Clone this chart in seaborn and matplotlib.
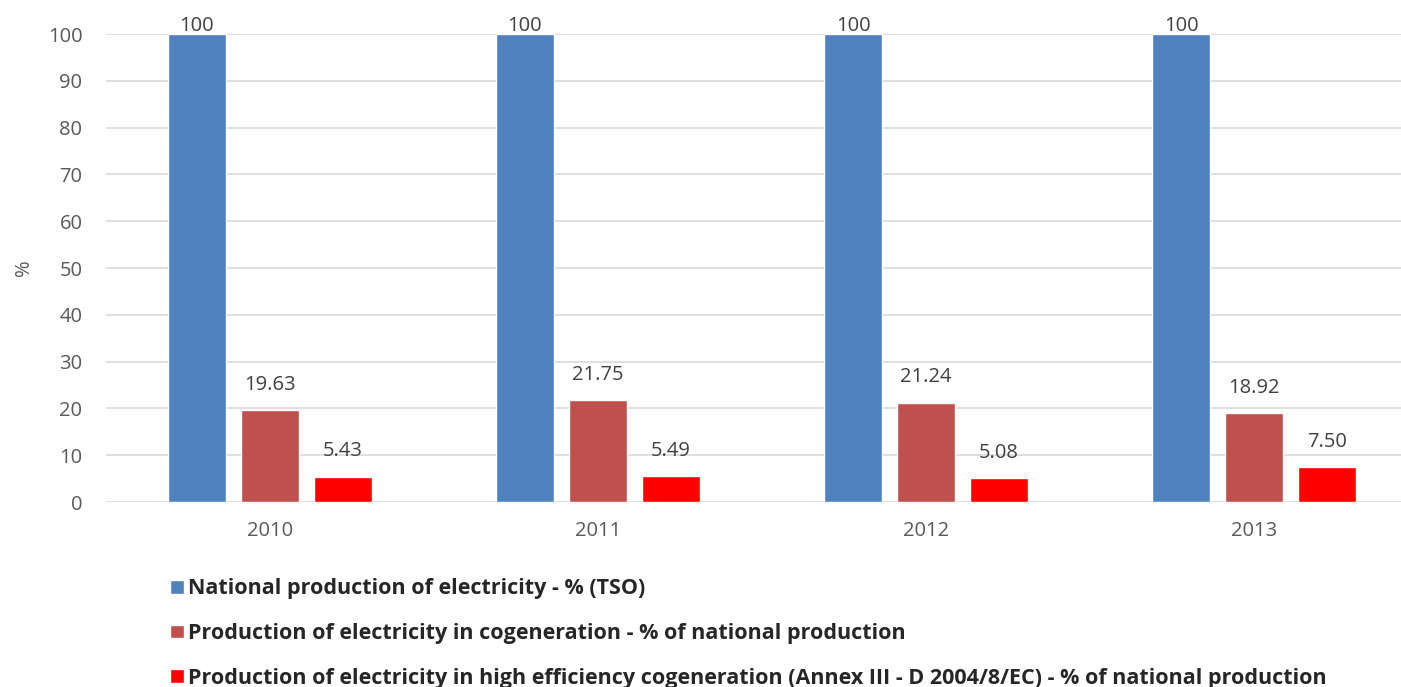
import pandas as pd
import matplotlib.pyplot as plt
import seaborn as sns

# values
years = ['2010', '2011', '2012', '2013']
national = [100, 100, 100, 100]
cogeneration = [19.63, 21.75, 21.24, 18.92]
high_eff = [5.43, 5.49, 5.08, 7.50]
series_names = [
    'National production of electricity - % (TSO)',
    'Production of electricity in cogeneration - % of national production',
    'Production of electricity in high efficiency cogeneration (Annex III - D 2004/8/EC) - % of national production',
]
colors = ['#4F81BD', '#C0504D', '#FF0000']

df = pd.DataFrame({
    'Year': years * 3,
    'Value': national + cogeneration + high_eff,
    'Series': [series_names[0]] * 4 + [series_names[1]] * 4 + [series_names[2]] * 4,
})

sns.set_style('white')
plt.rcParams['font.family'] = ['Open Sans', 'DejaVu Sans']

fig = plt.figure(figsize=(14.01, 6.87), dpi=100)
ax = fig.add_axes([106 / 1401, 185 / 687, 1295 / 1401, 468 / 687])

sns.barplot(data=df, x='Year', y='Value', hue='Series', palette=colors,
            width=0.668, gap=0.205, saturation=1, ax=ax, legend=True)

ax.set_ylim(0, 100)
ax.set_xlim(-0.5, 3.448)
ax.set_yticks(range(0, 101, 10))
ax.yaxis.grid(True, color='#D9D9D9', linewidth=1.2)
ax.set_axisbelow(True)
sns.despine(ax=ax, left=True, bottom=True)
ax.tick_params(axis='both', length=0, labelsize=14.5, labelcolor='#595959')
ax.tick_params(axis='x', pad=14)
ax.tick_params(axis='y', pad=17)
ax.set_xlabel('')
ax.set_ylabel('%', fontsize=14.5, color='#595959', labelpad=10)

for i, cont in enumerate(ax.containers):
    fmt = '%.0f' if i == 0 else '%.2f'
    ax.bar_label(cont, fmt=fmt, padding=-1.5 if i == 0 else 11,
                 fontsize=14.5, color='#404040', clip_on=False)

handles, labels = ax.get_legend_handles_labels()
ax.get_legend().remove()
leg = fig.legend(handles, labels, loc='upper left', bbox_to_anchor=(151 / 1401, 1 - 559 / 687),
                 frameon=False, handlelength=0.62, handleheight=0.62, handletextpad=0.22,
                 labelspacing=1.1, prop={'weight': 'bold', 'size': 15.5})

plt.savefig('out.png', dpi=100)
